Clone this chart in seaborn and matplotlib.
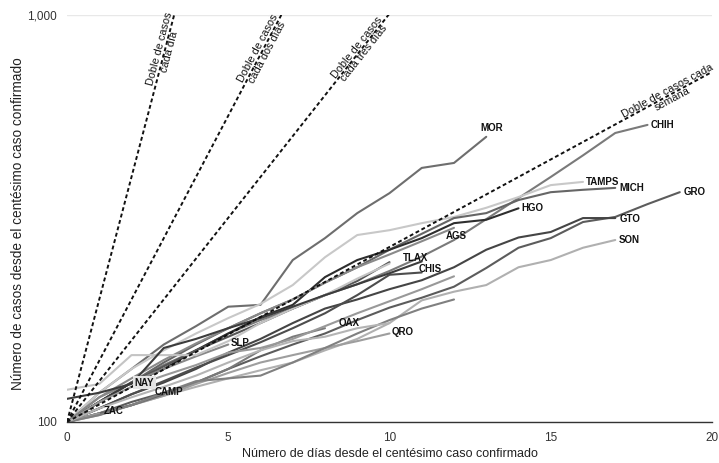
import numpy as np
import pandas as pd
import matplotlib
matplotlib.use("Agg")
import matplotlib.pyplot as plt
import seaborn as sns
from matplotlib.ticker import FixedLocator, FuncFormatter, NullLocator

# ---------------- data (cases since the 100th confirmed case, per day) ----------------
MOR   = [100, 118, 135, 155, 172, 192, 194, 250, 283, 326, 365, 421, 433, 502]
CHIH  = [100, 112, 125, 138, 150, 165, 178, 190, 205, 218, 235, 255, 280, 315, 355, 400, 452, 513, 537]
TAMPS = [100, 118, 135, 150, 165, 180, 195, 217, 254, 288, 296, 308, 319, 336, 357, 382, 389]
MICH  = [100, 112, 125, 140, 155, 170, 185, 200, 220, 240, 265, 290, 317, 326, 351, 367, 372, 376]
GRO   = [100, 105, 112, 118, 125, 135, 145, 155, 165, 178, 191, 202, 215, 239, 268, 283, 310, 319, 343, 367]
HGO   = [100, 112, 125, 135, 150, 165, 181, 194, 227, 250, 265, 283, 308, 314, 335]
GTO   = [100, 108, 117, 125, 135, 148, 160, 175, 190, 200, 212, 223, 240, 265, 284, 293, 317, 317]
SON   = [100, 105, 110, 116, 122, 128, 134, 140, 150, 160, 175, 199, 209, 217, 240, 250, 268, 280]
AGS   = [100, 115, 128, 142, 156, 170, 185, 200, 220, 240, 258, 278, 300]
TLAX  = [100, 112, 125, 137, 150, 162, 175, 190, 205, 222, 247]
CHIS  = [100, 108, 117, 126, 136, 146, 157, 170, 185, 205, 230, 233]
OAX   = [100, 105, 110, 117, 125, 135, 150, 162, 170]
QRO   = [100, 104, 110, 116, 124, 132, 140, 146, 152, 158, 165]
SLP   = [100, 115, 125, 135, 145, 155]
NAY   = [100, 112, 125]
CAMP  = [100, 105, 110, 117]
ZAC   = [100, 105]
OTRO1 = [120, 124, 146, 146, 146, 158, 175, 190, 205, 225, 245]
OTRO2 = [114, 118, 124, 152, 160, 170, 180, 192, 205, 218, 232, 248]
OTRO3 = [100, 112, 122, 130, 138, 148, 152, 160, 172, 185, 198, 212, 228]
OTRO4 = [100, 104, 110, 118, 126, 128, 130, 140, 152, 165, 178, 190, 200]
OTRO5 = [100, 108, 115, 122, 130, 140, 150, 158, 162, 170, 175]

series = {"MOR": MOR, "CHIH": CHIH, "TAMPS": TAMPS, "MICH": MICH, "GRO": GRO,
          "HGO": HGO, "GTO": GTO, "SON": SON, "AGS": AGS, "TLAX": TLAX,
          "CHIS": CHIS, "OAX": OAX, "QRO": QRO, "SLP": SLP, "NAY": NAY,
          "CAMP": CAMP, "ZAC": ZAC,
          "otro1": OTRO1, "otro2": OTRO2, "otro3": OTRO3, "otro4": OTRO4, "otro5": OTRO5}
labeled = ["MOR", "CHIH", "TAMPS", "MICH", "GRO", "HGO", "GTO", "SON", "AGS",
           "TLAX", "CHIS", "OAX", "QRO", "SLP", "NAY", "CAMP", "ZAC"]

doubling_days = [1, 2, 3, 7]
doubling_labels = ["Doble de casos\ncada día", "Doble de casos\ncada dos días",
                   "Doble de casos\ncada tres días", "Doble de casos cada\nsemana"]
x_ticks = [0, 5, 10, 15, 20]
y_ticks = [100, 1000]

# ---------------- styles ----------------
colors = {"MOR": "#6e6e6e", "CHIH": "#7a7a7a", "TAMPS": "#c8c8c8", "MICH": "#666666",
          "GRO": "#5c5c5c", "HGO": "#2e2e2e", "GTO": "#454545", "SON": "#b0b0b0",
          "AGS": "#8a8a8a", "TLAX": "#555555", "CHIS": "#4d4d4d", "OAX": "#7a7a7a",
          "QRO": "#9e9e9e", "SLP": "#888888", "NAY": "#3a3a3a", "CAMP": "#666666",
          "ZAC": "#9a9a9a", "otro1": "#c4c4c4", "otro2": "#3c3c3c", "otro3": "#999999",
          "otro4": "#808080", "otro5": "#b4b4b4"}
# label offsets in pixels from the last point: (dx, dy, ha)
label_pos = {"MOR": (5, 9, "center"), "CHIH": (3, 0, "left"), "TAMPS": (3, 0, "left"),
             "MICH": (4, 0, "left"), "GRO": (4, 0, "left"), "HGO": (3, 0, "left"),
             "GTO": (4, -1, "left"), "SON": (3, 0, "left"), "AGS": (2, -8, "center"),
             "TLAX": (13, 4, "left"), "CHIS": (8, 3, "center"), "OAX": (14, 5, "left"),
             "QRO": (2, 1, "left"), "SLP": (2, 2, "left"), "NAY": (3, 0, "left"),
             "CAMP": (-9, 2, "left"), "ZAC": (5, 2, "left")}
doubling_centers = [8.18, 8.18, 8.18, None]  # value at label centre
week_center_day = 18.7

sns.set_style("white")
plt.rcParams["font.family"] = ["Liberation Sans", "DejaVu Sans"]

rows = []
for name, vals in series.items():
    for d, v in enumerate(vals):
        rows.append({"dia": d, "casos": v, "estado": name})
df = pd.DataFrame(rows)

fig = plt.figure(figsize=(7.19, 4.63), dpi=100)
ax = fig.add_axes([67 / 719, 41 / 463, 645 / 719, 407 / 463])
ax.set_yscale("log")
ax.set_xlim(0, 20)
ax.set_ylim(100, 1000)

sns.lineplot(data=df, x="dia", y="casos", hue="estado", palette=colors,
             hue_order=list(series.keys()), estimator=None, legend=False,
             linewidth=1.5, ax=ax, zorder=2)

# doubling reference lines
xx = np.linspace(0, 20, 400)
for k, d in enumerate(doubling_days):
    yy = 100 * 2 ** (xx / d)
    ax.plot(xx, yy, color="#111111", lw=1.4, linestyle=(0, (2, 1.4)), zorder=3)
    if d == 7:
        xc = week_center_day
    else:
        xc = d * np.log2(doubling_centers[k])
    yc = 100 * 2 ** (xc / d)
    p1 = ax.transData.transform((xc - 0.05, 100 * 2 ** ((xc - 0.05) / d)))
    p2 = ax.transData.transform((xc + 0.05, 100 * 2 ** ((xc + 0.05) / d)))
    ang = np.degrees(np.arctan2(p2[1] - p1[1], p2[0] - p1[0]))
    ax.text(xc, yc, doubling_labels[k], rotation=ang, rotation_mode="anchor",
            ha="center", va="center", multialignment="center", fontsize=7.8,
            color="#111111", linespacing=0.95, zorder=5, clip_on=False)

# state labels
for name in labeled:
    vals = series[name]
    dx, dy, ha = label_pos[name]
    kw = {}
    if name == "NAY":
        kw["bbox"] = dict(boxstyle="square,pad=0.15", fc="#e4e4e4", ec="none")
    ax.annotate(name, xy=(len(vals) - 1, vals[-1]), xytext=(dx, dy),
                textcoords="offset pixels", ha=ha, va="center", fontsize=7,
                fontweight="bold", color="#111111", zorder=6, **kw)

ax.yaxis.set_major_locator(FixedLocator(y_ticks))
ax.yaxis.set_minor_locator(NullLocator())
ax.yaxis.set_major_formatter(FuncFormatter(lambda v, p: f"{int(v):,}"))
ax.set_xticks(x_ticks)
ax.tick_params(axis="both", length=0, labelsize=8.5, labelcolor="#333333")
ax.tick_params(axis="x", pad=7)
ax.tick_params(axis="y", pad=7)
ax.yaxis.grid(True, color="#e8e8e8", lw=1)
ax.xaxis.grid(False)
for s in ["top", "right", "left"]:
    ax.spines[s].set_visible(False)
ax.spines["bottom"].set_color("#333333")
ax.spines["bottom"].set_linewidth(1.0)
ax.spines["bottom"].set_zorder(4)

ax.set_xlabel("Número de días desde el centésimo caso confirmado", fontsize=9,
              color="#222222", labelpad=3)
ax.set_ylabel("Número de casos desde el centésimo caso confirmado", fontsize=9.8,
              color="#222222", labelpad=2)
ax.yaxis.set_label_coords(-42 / 645, (422 - 224) / 407)

fig.savefig("out.png", dpi=100)
